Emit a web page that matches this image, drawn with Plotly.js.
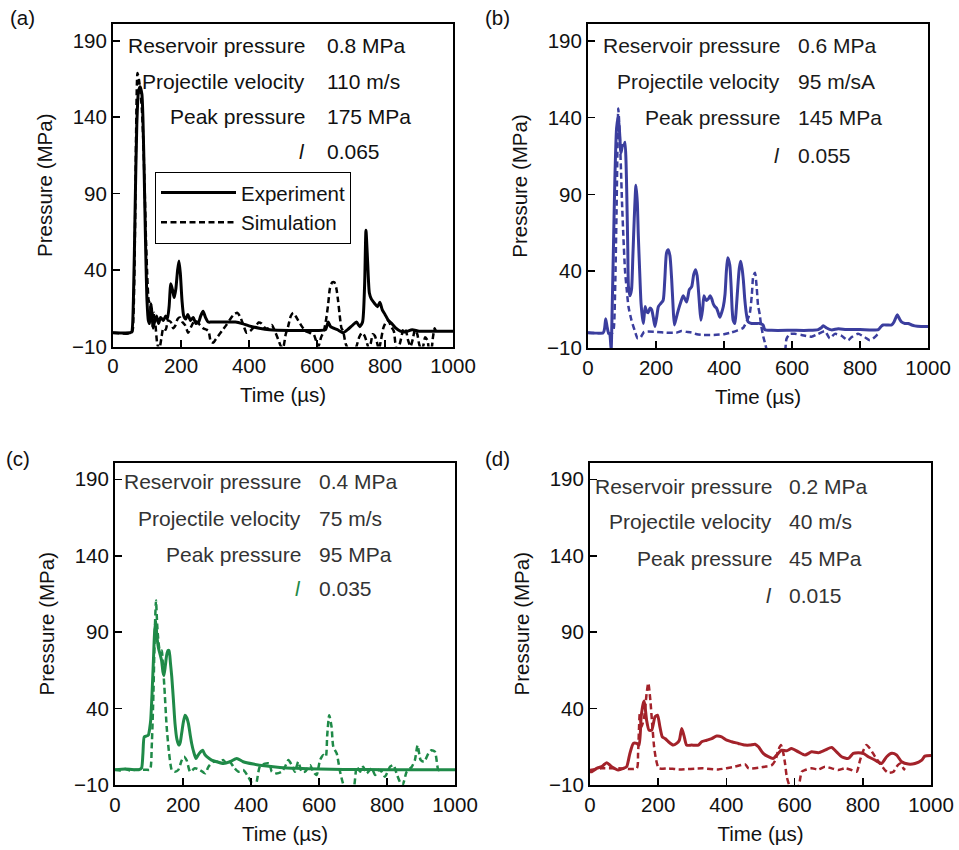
<!DOCTYPE html>
<html><head><meta charset="utf-8">
<script src="https://cdn.plot.ly/plotly-3.0.1.min.js"></script>
<style>body{margin:0;background:#fff}#chart{width:959px;height:850px}</style>
</head><body><div id="chart"></div>
<script>
// ---------- data (time in µs, pressure in MPa) ----------
const tA_exp = [0,50,55,60,65,70,75,80,85,88,92,96,100,104,108,112,115,118,122,128,134,140,148,155,160,165,170,175,180,185,190,194,198,203,208,214,220,228,236,244,252,258,265,272,280,290,320,360,380,400,430,460,520,600,625,633,640,660,677,690,705,716,726,734,740,744,749,754,760,770,778,785,792,800,810,820,832,845,860,880,900,950,1000];
const pA_exp = [-1,-1,-0.5,20,80,135,157,160,155,140,100,55,20,7,5,18,10,2,6,10,5,9,7,10,8,16,31,27,22,28,40,46,38,20,10,8,11,7,9,5,6,10,13,9,6,6,6,6,5,3.5,2,1,0.5,0.5,1,6,3,1,-1,1,4,6,3,6,30,66,45,25,21,18,16,19,14,11,7,5,2,0,-0.5,1,0,0,0];
const tA_sim = [0,55,60,65,68,72,76,80,85,89,93,97,101,105,109,113,117,121,125,130,136,142,148,155,162,170,177,184,190,197,204,212,221,230,240,248,256,265,275,281,288,295,303,313,323,333,345,356,366,375,385,393,403,412,422,428,437,448,457,467,478,487,494,500,508,515,523,530,537,545,556,566,578,590,597,604,612,620,627,633,638,645,651,657,662,668,672,677,684,692,700,708,716,724,732,740,746,752,758,764,770,776,782,788,795,803,810,818,826,832,838,845,850,855,862,868,875,882,888,895,900,906,912,918,925,930,936,941,946,950];
const pA_sim = [-1,-1,10,70,130,169,165,158,145,125,95,60,35,20,18,8,3,12,4,-8,-12,-5,2,1,7,6,2,4,8,9,6,4,-1,3,7,6,4,2,1,0,-7,-7.5,-5,-2,1,4,8,11,12,9,3,-1,0,2,4,5.7,5,2,2,4,-1,-6,-10,-11,-2,3,10,12,10,7,3,0,-1,-2,-6,-10,-4,0,8,18,28,32,32,28,20,8,2,0,-8,-12,-14,-14,-10,-4,-1,-3,-7,-11,-8,-2,-3,-7,-12,-6,2,6,7,3,0,-10,-12,-7,-2,2,0,-6,-10,-5,1,-2,-8,-12,-10,-4,-6,-12,-12,-4,2,0];

const tB_exp = [0,45,49,52,56,60,64,68,71,74.5,79,84,89,93,97,102,106,109,112,114,117,119,123.5,128,132,136,141,145,148,152,156,160,163,168,172,177,182,187,192,197,202,207,214,221,226,231,236,241,246,250,254,260,266,273,280,290,298,305,311,316.5,321,324,328,332,337,341,345,349,354,359,364,368,373,378,383,388,393,398,403,407,411,417,421,424,427,432,436,440,445,449,453,457,461,466,471,481,495,505,515,520,540,600,650,677,685,692,702,716,736,760,800,854,862,868,880,893,900,906,910,916,922,932,942,952,961,980,1000];
const pB_exp = [0,0,3,9,4,0,-1,-11,15,52,100,133,141,130,117,122,122,124,110,91,55,30,24,28,50,74,96,85,63,40,19,10,6,17,14,13,16,15,10,4,10,17,19,21,35,52,54,50,35,18,5,10,15,20,24,20,28,30,38,41,37,30,18,8,15,24,22,21,22,24,22,19,17,16,13,10,13,17,25,40,48.7,44,30,15,8,6,15,28,42,46.5,42,34,22,12,7,6,6,6,5,2,1.5,1.5,1.5,2,3,4.5,3,1.8,2.5,2,2,2,4,5,5,5,7,10,11.6,9,7,6,6,5,4.4,4,4];
const tB_sim = [0,72,76,80,84,87,89,91,94,97,100,104,109,114,119,128,138,146,155,165,175,200,230,260,275,290,305,320,340,370,400,420,440,456,468,476,482,486,491,496,500,505,509,516,522,527,540,560,575,580,584,594,608,628,657,677,697,711,726,745,765,775,794,814,829,843,853,858];
const pB_sim = [0,0,3,30,80,125,146,140,125,106,85,63,40,28,17,8,1,-3.7,-3,0.5,0.7,0.5,0,0,1,0.5,0,-1,-1.5,-1.5,-1,0,1.5,3,8,12.7,25,36.7,39,30,18,12,5,-3,-8,-13,-30,-40,-30,-13,-4,-0.8,-0.8,-1.5,-2.6,-0.8,1,-3.7,-0.8,-2,-5,-3,-0.8,-3,-5,-3,-0.8,0];

const tC_exp = [0,30,60,70,78,82,86,92,98,102,105,109,113,116,119.6,123,127.5,132,137,141,144,148,152,156,159,163,167,172,176.5,182,188,192,196,201,206,211,216,221,225.5,231,238,243,248,253,258,264,270,284,299,319,338,358,377,407,446,485,534,600,672,800,1000];
const pC_exp = [0,0.5,0,0,1,10,21.5,22,22.6,27,32.4,50,71.5,88,97.6,88,80,76,71.5,64,61.7,68,75,78,78,70,60.7,45,30.2,20,16.1,18,23.7,31,35.7,34,30.2,23,17.2,12,7.4,9,10.7,12,12.8,10,8.5,6.3,5.2,4.1,5.2,7.4,5.2,3.7,2.4,1.5,0.9,0.5,0.2,0,0];
const tC_sim = [0,15,30,45,60,90,103,108,113,117,120.6,124,127,132,137,141,145,152,159,167,176,186,196,203,211,221,235,250,265,275,289,304,319,328,338,348,363,377,392,405,412,417,426,441,454,461,475,490,500,510,520,529,539,549,559,574,583,593,603,613,620,624,630,637,642,652,662,672,681,691,701,711,721,730,740,755,765,775,784,794,809,819,828,838,846,858,873,882,890,899,909,922,931,941,951,956];
const pC_sim = [0,-0.5,0.5,-0.5,0,0,0,15,50,90,110.7,95,86,78,78,68,55,28,11,-0.2,-1.3,-0.2,6,8.5,6,-1.3,1,-0.2,-2.4,2,5.2,5.2,6.3,4,5.2,2,-1.3,-0.2,-4.6,-10,-12,-7.8,2,4,4.1,-1.3,-2.4,-1.3,2,6.3,3,-1.3,5.2,-1.3,-1.3,3,-1.3,-3.5,6.3,9.6,8.5,22,35.7,28,15,10.7,-1.3,-10,-14,-12,-13,2,-1.3,2,-2.4,1,-3.5,-0.2,-1.3,-4.6,2,3,-2.4,-8,-10,-1.3,2,6.3,16,6.3,5.2,10.7,12.8,11.7,-0.2,-0.2];

const tD_exp = [0,5,19.6,34,49,63.5,83,98,107.5,117,127,137,144,150,156,159,166,173,181,190.6,198,205,212,220,230,244,254,262,269,276,283.5,298,318,327.5,342,357,371.5,386,401,415.5,435,454.5,469,484,494,508,523,537.6,552,562,577,591,611,630.5,650,669.6,689,708.7,723,738,757.6,772,787,801.6,816,836,855,870,885,899,914,933.5,953,973,982,1000];
const pD_exp = [-1.3,-1.3,0.9,2,4.6,2,-0.2,0.9,2,10.7,17.2,17.2,16.1,34.6,43.3,45,32.4,25.9,25.9,34.6,35.7,28,21.5,20.4,18.3,16.1,17.2,19.3,27,22,16.1,16.1,16.1,18.3,19.3,20.4,22,21.5,19.3,18.3,17.2,16.1,16.1,16.7,15,10.7,8.5,7.4,10.7,12.8,12.4,13.9,11.7,9.6,11.7,11.1,12.8,14.6,11.7,8.5,7.4,10.7,11.1,10.7,8.5,6.3,4.1,8.5,10.7,9.6,5.2,3.7,4.1,6.3,8.9,9.3];
const tD_sim = [0,34,63.5,83,137,141,146,151,159,166,171,177,183,188,194,202,230,260,330,376,425,455,465,513,533,544,552,560,567,572,577,584,592,606,613,621,631,650,670,689,709,728,748,767,782,792,802,810,821,836,850,865,875,890,899,909,919,924];
const pD_sim = [-0.2,0.9,0.9,0.9,0.9,10.7,36.7,28,34.6,49.8,56.7,45.4,28,15,6.3,0.9,0.9,0.2,0.9,0.2,2,3.5,0.9,2,3,6.3,12.8,16.1,10.7,4.1,-4.6,-10,-14.3,-13.3,-10,-1.3,-0.2,0.9,0.2,2,0.9,-0.2,0.9,-0.2,-1.3,6.3,12.8,16.1,13.9,8.5,4.1,-0.2,-2,-1.3,2,4.1,0.9,-0.2];

// ---------- labels ----------
const xTicks = [0,200,400,600,800,1000];
const yTicks = [-10,40,90,140,190];
const panelLabels = ['(a)','(b)','(c)','(d)'];
const rowNames = ['Reservoir pressure','Projectile velocity','Peak pressure','<i>l</i>'];
const reservoir = ['0.8 MPa','0.6 MPa','0.4 MPa','0.2 MPa'];
const velocity = ['110 m/s','95 m/sA','75 m/s','40 m/s'];
const peak = ['175 MPa','145 MPa','95 MPa','45 MPa'];
const lVals = ['0.065','0.055','0.035','0.015'];
const seriesNames = ['Experiment','Simulation'];
const colors = ['#000000','#3b3e9e','#1f8a48','#a3222a'];

// ---------- layout helpers ----------
const W = 959, H = 850;
const FONT = 'Liberation Sans, Arial, Helvetica, sans-serif';
const panels = [
  {t:[tA_exp,tA_sim], p:[pA_exp,pA_sim], box:[113,453,24,346.5], lab:[22,18], labR:307, valL:325, rows:[45,81.7,116.7,151.7], txt:'#111', lcol:'#111'},
  {t:[tB_exp,tB_sim], p:[pB_exp,pB_sim], box:[588,928,24,348],   lab:[497,18], labR:782, valL:796, rows:[46,81.7,118,155], txt:'#1a1a1a', lcol:'#1a1a1a'},
  {t:[tC_exp,tC_sim], p:[pC_exp,pC_sim], box:[115,455,462.5,785], lab:[18,458], labR:303, valL:317, rows:[481.7,518.3,554.3,588.3], txt:'#333', lcol:colors[2]},
  {t:[tD_exp,tD_sim], p:[pD_exp,pD_sim], box:[590,931,462.5,785], lab:[497,458], labR:774, valL:787, rows:[486.7,521.7,558.3,595], txt:'#333', lcol:'#333'}
];

const traces = [];
const layout = {
  width: W, height: H, margin:{l:0,r:0,t:0,b:0},
  paper_bgcolor:'#fff', plot_bgcolor:'#fff',
  font:{family:FONT, size:20.5, color:'#111'},
  showlegend:true,
  legend:{x:155/W, y:1-171.7/H, xanchor:'left', yanchor:'top', bgcolor:'#fff',
          bordercolor:'#000', borderwidth:1, font:{size:20.5, color:'#111'},
          itemwidth:75, tracegroupgap:0},
  annotations:[]
};

const axisBase = {showline:true, mirror:true, linecolor:'#000', linewidth:2,
  ticks:'inside', ticklen:7, tickwidth:1.6, tickcolor:'#000', showgrid:false,
  zeroline:false, tickfont:{size:20.5, color:'#111'}, fixedrange:true, automargin:false};

panels.forEach((pn, i) => {
  const n = i === 0 ? '' : String(i+1);
  const [x0,x1,y0,y1] = pn.box;
  layout['xaxis'+n] = Object.assign({}, axisBase, {
    domain:[x0/W, x1/W], range:[0,1000], tickvals:xTicks, anchor:'y'+n,
    title:{text:'Time (µs)', font:{size:20.5, color:'#111'}, standoff:12}
  });
  layout['yaxis'+n] = Object.assign({}, axisBase, {
    domain:[1-y1/H, 1-y0/H], range:[-10,201], tickvals:yTicks, anchor:'x'+n,
    title:{text:'Pressure (MPa)', font:{size:20.5, color:'#111'}, standoff:14}
  });
  [0,1].forEach(k => {
    traces.push({
      type:'scatter', mode:'lines', x:pn.t[k], y:pn.p[k],
      xaxis:'x'+n, yaxis:'y'+n, name:seriesNames[k],
      showlegend: i === 0, hoverinfo:'skip',
      line:{color:colors[i], width:k===0?3:2.5, dash:k===0?'solid':'6px,3.5px', shape:'spline', smoothing:0.6}
    });
  });
  const vals = [reservoir[i], velocity[i], peak[i], lVals[i]];
  rowNames.forEach((rn, r) => {
    layout.annotations.push({text:rn, x:pn.labR/W, y:1-pn.rows[r]/H, xref:'paper', yref:'paper',
      xanchor:'right', yanchor:'middle', showarrow:false,
      font:{size:21, color: r===3 ? pn.lcol : pn.txt}});
    layout.annotations.push({text:vals[r], x:pn.valL/W, y:1-pn.rows[r]/H, xref:'paper', yref:'paper',
      xanchor:'left', yanchor:'middle', showarrow:false, font:{size:21, color:pn.txt}});
  });
  layout.annotations.push({text:panelLabels[i], x:pn.lab[0]/W, y:1-pn.lab[1]/H, xref:'paper', yref:'paper',
    xanchor:'center', yanchor:'middle', showarrow:false, font:{size:20.5, color:'#111'}});
});

Plotly.newPlot('chart', traces, layout, {displayModeBar:false, staticPlot:true});
</script>
</body></html>
